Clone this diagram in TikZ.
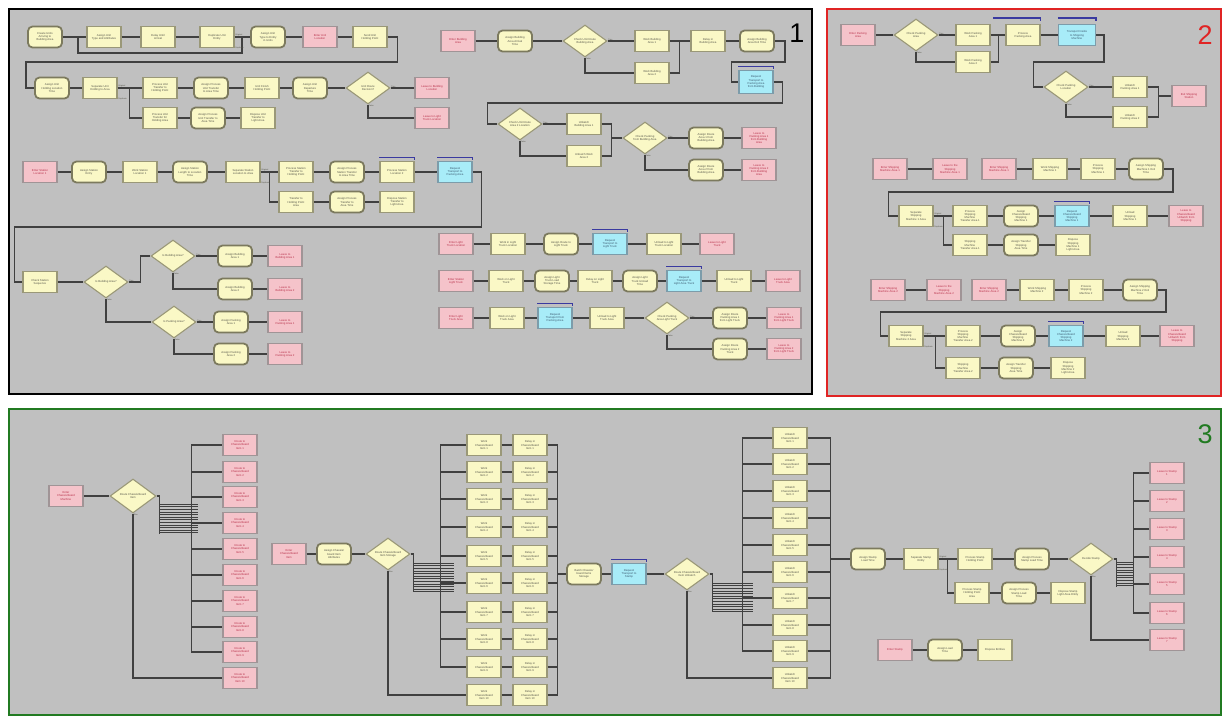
\documentclass[tikz,border=0pt]{standalone}
\usepackage{fontspec}
\setmainfont{Liberation Sans}
\usetikzlibrary{shapes.geometric}
\definecolor{bggray}{HTML}{C0C0C0}
\definecolor{yfill}{HTML}{FAF8C6}
\definecolor{ybord}{HTML}{9A9878}
\definecolor{rbord}{HTML}{7C7A5E}
\definecolor{ytext}{HTML}{55554A}
\definecolor{pfill}{HTML}{F5C3CA}
\definecolor{pbord}{HTML}{A09496}
\definecolor{ptext}{HTML}{B8304A}
\definecolor{bfill}{HTML}{A8ECF8}
\definecolor{bbord}{HTML}{7C9CAA}
\definecolor{btext}{HTML}{3C5A70}
\definecolor{lin}{HTML}{404040}
\definecolor{barc}{HTML}{3A3AA0}
\definecolor{redb}{HTML}{E02424}
\definecolor{greenb}{HTML}{217A21}
\newcommand\tbar[1]{\draw[bar] ([yshift=3.5pt]#1.north west) -- ([yshift=3.5pt]#1.north east) -- ([yshift=0.5pt]#1.north east);}
\newcommand\tflab[1]{\node[lab,anchor=south west] at (#1.east) {True}; \node[lab,anchor=north west] at (#1.south) {False};}
\newcommand\odlab[1]{\node[lab,anchor=south west] at (#1.east) {Original}; \node[lab,anchor=north west] at ([yshift=2pt]#1.south east) {Duplicate};}
\begin{document}
\begin{tikzpicture}[x=1pt,y=-1pt,
 base/.style={rectangle,minimum width=34pt,minimum height=21pt,inner sep=0.5pt,align=center,font=\fontsize{2.8}{3.2}\selectfont,line width=1.1pt},
 ybox/.style={base,fill=yfill,draw=ybord,text=ytext},
 yrnd/.style={ybox,rounded corners=4.5pt,draw=rbord,line width=1.8pt},
 pbox/.style={base,fill=pfill,draw=pbord,text=ptext},
 bbox/.style={base,fill=bfill,draw=bbord,text=btext},
 dia/.style={diamond,shape aspect=1.4,fill=yfill,draw=ybord,line width=1.1pt,minimum width=44pt,minimum height=32pt,inner sep=0pt,align=center,font=\fontsize{2.8}{3.2}\selectfont,text=ytext},
 conn/.style={draw=lin,line width=1.4pt},
 hatchline/.style={draw=lin,line width=0.6pt},
 bar/.style={draw=barc,line width=1.4pt},
 lab/.style={font=\fontsize{2}{2.4}\selectfont,text=ytext,inner sep=0.6pt},
 big/.style={font=\fontsize{27}{27}\selectfont,inner sep=0pt}]
\fill[white] (0,0) rectangle (1227,720);
\useasboundingbox (0,0) rectangle (1227,720);
\draw[fill=bggray,draw=black,line width=2.6pt] (9,9) rectangle (812,394);
\draw[fill=bggray,draw=redb,line width=2.4pt] (827,9) rectangle (1221,396);
\draw[fill=bggray,draw=greenb,line width=2.6pt] (9,409) rectangle (1221,715);
\node[big,text=black] (n1lab) at (797,33) {1};
\node[big,text=redb] (n2lab) at (1205,35) {2};
\node[big,text=greenb] (n3lab) at (1205,434) {3};

% ---------------- Panel 1 ----------------
\node[yrnd] (a1) at (45,37) {Create Units\\Arriving to\\Building Area};
\node[ybox] (a2) at (104,37) {Assign Unit\\Type and Attributes};
\node[ybox] (a3) at (158,37) {Delay Until\\Arrival};
\node[ybox] (a4) at (217,37) {Duplicate Unit\\Entity};
\node[yrnd] (a5) at (268,37) {Assign Unit\\Type to Entity\\in Units};
\node[pbox] (a6) at (320,37) {Enter Unit\\Location};
\node[ybox] (a7) at (370,37) {Send Unit\\Holding Point};

\node[yrnd] (b1) at (52,88) {Assign Unit\\Holding Location\\Time};
\node[ybox] (b2) at (100,88) {Separate Unit\\Holding to Area};
\node[ybox] (b3) at (160,88) {Process Unit\\Transfer to\\Holding Point};
\node[yrnd] (b4) at (211,88) {Assign Process\\Unit Transfer\\to Area Time};
\node[ybox] (b5) at (262,88) {Unit Finish\\Holding Point};
\node[yrnd] (b6) at (310,88) {Assign Unit\\Departure\\Time};
\node[dia] (b7) at (368,88) {Unit Route\\Decision?};
\node[pbox] (b8) at (432,88) {Leave to Building\\Location};
\node[pbox] (b9) at (432,118) {Leave to Light\\Truck Location};
\node[ybox] (b3b) at (160,118) {Process Unit\\Transfer for\\Holding Area};
\node[yrnd] (b4b) at (208,118) {Assign Process\\Unit Transfer to\\Area Time};
\node[ybox] (b5b) at (258,118) {Dispose Unit\\Transfer to\\Light Area};

\node[pbox] (c1) at (458,41) {Enter Building\\Area};
\node[yrnd] (c2) at (515,41) {Assign Building\\Area Arrival\\Time};
\node[dia] (c3) at (585,41) {Check Unit Route\\Building Area};
\node[ybox] (c4) at (652,41) {Work Building\\Area 1};
\node[ybox] (c5) at (652,73) {Work Building\\Area 2};
\node[ybox] (c6) at (708,41) {Delay in\\Building Area};
\node[yrnd] (c7) at (757,41) {Assign Building\\Area Exit Time};
\node[bbox,minimum height=23pt] (c8) at (756,82) {Request\\Transport to\\Packing Area\\from Building};
\node[dia] (c9) at (520,124) {Check Unit Route\\Area 2 Location};
\node[ybox] (c10) at (584,124) {Unbatch\\Building Area 1};
\node[ybox] (c11) at (584,156) {Unbatch Work\\Area 2};
\node[dia] (c12) at (645,138) {Check Packing\\from Building Area};
\node[yrnd] (c13) at (706,138) {Assign Route\\Area 1 from\\Building Area};
\node[pbox] (c14) at (759,138) {Leave to\\Packing Area 1\\from Building\\Area};
\node[yrnd] (c15) at (706,170) {Assign Route\\Area 2 from\\Building Area};
\node[pbox] (c16) at (759,170) {Leave to\\Packing Area 2\\from Building\\Area};

\node[pbox] (d1) at (40,172) {Enter Station\\Location 1};
\node[yrnd] (d2) at (89,172) {Assign Station\\Entry};
\node[ybox] (d3) at (140,172) {Work Station\\Location 1};
\node[yrnd] (d4) at (190,172) {Assign Station\\Length to Location\\Time};
\node[ybox] (d5) at (243,172) {Separate Station\\Location to Area};
\node[ybox] (d6) at (296,172) {Process Station\\Transfer to\\Holding Point};
\node[yrnd] (d7) at (347,172) {Assign Process\\Station Transfer\\to Area Time};
\node[ybox] (d8) at (397,172) {Process Station\\Location 2};
\node[bbox] (d9) at (455,172) {Request\\Transport to\\Packing Area};
\node[ybox] (d6b) at (296,202) {Transfer to\\Holding Point\\Area};
\node[yrnd] (d7b) at (347,202) {Assign Process\\Transfer to\\Area Time};
\node[ybox] (d8b) at (397,202) {Dispose Station\\Transfer to\\Light Area};

\node[ybox] (e1) at (40,282) {Check Station\\Sequence};
\node[dia] (e2) at (106,282) {Is Building Area?};
\node[dia] (e3) at (173,256) {Is Building Area?};
\node[yrnd] (e4) at (235,256) {Assign Building\\Area 1};
\node[pbox] (e5) at (285,256) {Leave to\\Building Area 1};
\node[yrnd] (e6) at (235,289) {Assign Building\\Area 2};
\node[pbox] (e7) at (285,289) {Leave to\\Building Area 2};
\node[dia] (e8) at (174,322) {Is Packing Area?};
\node[yrnd] (e9) at (231,322) {Assign Packing\\Area 1};
\node[pbox] (e10) at (285,322) {Leave to\\Packing Area 1};
\node[yrnd] (e11) at (231,354) {Assign Packing\\Area 2};
\node[pbox] (e12) at (285,354) {Leave to\\Packing Area 2};

\node[pbox] (f1) at (456,244) {Enter Light\\Truck Location};
\node[ybox] (f2) at (508,244) {Work in Light\\Truck Location};
\node[yrnd] (f3) at (561,244) {Assign Route to\\Light Truck};
\node[bbox] (f4) at (610,244) {Request\\Transport to\\Light Truck};
\node[ybox] (f5) at (664,244) {Unload to Light\\Truck Location};
\node[pbox] (f6) at (717,244) {Leave to Light\\Truck};

\node[pbox] (g1) at (456,281) {Enter Station\\Light Truck};
\node[ybox] (g2) at (506,281) {Work on Light\\Truck};
\node[yrnd] (g3) at (552,281) {Assign Light\\Truck Load\\Storage Time};
\node[ybox] (g4) at (595,281) {Delay on Light\\Truck};
\node[yrnd] (g5) at (640,281) {Assign Light\\Truck Unload\\Time};
\node[bbox] (g6) at (684,281) {Request\\Transport to\\Light Area Truck};
\node[ybox] (g7) at (734,281) {Unload to Light\\Truck};
\node[pbox] (g8) at (783,281) {Leave to Light\\Truck Area};

\node[pbox] (h1) at (456,318) {Enter Light\\Truck Area};
\node[ybox] (h2) at (507,318) {Work on Light\\Truck Area};
\node[bbox] (h3) at (555,318) {Request\\Transport from\\Packing Area};
\node[ybox] (h4) at (607,318) {Unload to Light\\Truck Area};
\node[dia] (h5) at (667,318) {Check Packing\\Area Light Truck};
\node[yrnd] (h6) at (730,318) {Assign Route\\Packing Area 1\\from Light Truck};
\node[pbox] (h7) at (784,318) {Leave to\\Packing Area 1\\from Light Truck};
\node[yrnd] (h8) at (730,349) {Assign Route\\Packing Area 2\\Truck};
\node[pbox] (h9) at (784,349) {Leave to\\Packing Area 2\\from Light Truck};

% connectors panel 1
\foreach \p/\q in {a1/a2,a2/a3,a3/a4,a4/a5,a5/a6,a6/a7,b1/b2,b2/b3,b3/b4,b4/b5,b5/b6,b6/b7,b7/b8,b3b/b4b,b4b/b5b,
 c1/c2,c2/c3,c3/c4,c4/c6,c6/c7,c9/c10,c12/c13,c13/c14,c15/c16,
 d1/d2,d2/d3,d3/d4,d4/d5,d5/d6,d6/d7,d7/d8,d8/d9,d6b/d7b,d7b/d8b,
 e1/e2,e3/e4,e4/e5,e6/e7,e8/e9,e9/e10,e11/e12,
 f1/f2,f2/f3,f3/f4,f4/f5,f5/f6,g1/g2,g2/g3,g3/g4,g4/g5,g5/g6,g6/g7,g7/g8,
 h1/h2,h2/h3,h3/h4,h4/h5,h5/h6,h6/h7,h8/h9}
 \draw[conn] (\p.east) -- (\q.west);
\draw[conn] (a1.east) -- ++(15,0) -- ++(0,16) -| ([xshift=-8pt]a5.west) -- (a5.west);
\draw[conn] (a7.east) -| ++(10,25) -| ([xshift=-8pt]b1.west) -- (b1.west);
\draw[conn] (b7.south) |- (b9.west);
\draw[conn] (b2.east) -- ++(12,0) |- (b3b.west);
\draw[conn] (c3.south) |- (c5.west);
\draw[conn] (c5.east) -| ([xshift=-11pt]c6.west);
\draw[conn] (c7.east) -| ++(10,21) -| ([xshift=-7pt]c8.west) -- (c8.west);
\draw[conn] (c8.east) -| ++(9,21) -| ([xshift=-10pt]c9.west) -- (c9.west);
\draw[conn] (c9.south) |- (c11.west);
\draw[conn] (c10.east) -| ([xshift=-11pt]c12.west) -- (c12.west);
\draw[conn] (c11.east) -| ([xshift=-11pt]c12.west);
\draw[conn] (c12.south) |- (c15.west);
\draw[conn] (d5.east) -- ++(9,0) |- (d6b.west);
\draw[conn] (d9.east) -| ++(9,55) -| ([xshift=-8pt]e1.west) -- (e1.west);
\draw[conn] (e2.east) -- ++(12,0) |- (e3.west);
\draw[conn] (e3.south) |- (e6.west);
\draw[conn] (e2.south) |- (e8.west);
\draw[conn] (e8.south) |- (e11.west);
\draw[conn] (h5.south) |- (h8.west);
\foreach \n in {c8,d8,d9,f4,g6,h3} {\tbar{\n}}
\foreach \n in {b7,c3,c9,c12,e2,e3,e8,h5} {\tflab{\n}}
\foreach \n in {a4,b2,d5} {\odlab{\n}}

% ---------------- Panel 2 ----------------
\node[pbox] (i1) at (858,35) {Enter Packing\\Area};
\node[dia] (i2) at (916,35) {Check Packing\\Area};
\node[ybox] (i3) at (973,35) {Work Packing\\Area 1};
\node[ybox] (i4) at (973,62) {Work Packing\\Area 2};
\node[ybox] (i5) at (1023,35) {Process\\Packing Area};
\node[bbox,minimum width=37pt] (i6) at (1077,35) {Transport Inside\\to Shipping\\Machine};
\node[dia] (i7) at (1066,87) {Check Packing\\Location};
\node[ybox] (i8) at (1130,87) {Unbatch\\Packing Area 1};
\node[ybox] (i9) at (1130,117) {Unbatch\\Packing Area 2};
\node[pbox] (i10) at (1189,96) {Exit Shipping\\Station};

\node[pbox] (j1) at (890,169) {Enter Shipping\\Machine Area 1};
\node[pbox] (j2) at (950,169) {Leave to the\\Shipping\\Machine Area 1};
\node[pbox] (j3) at (999,169) {Enter Shipping\\Machine Area 1};
\node[ybox] (j4) at (1050,169) {Work Shipping\\Machine 1};
\node[ybox] (j5) at (1098,169) {Process\\Shipping\\Machine 1};
\node[yrnd] (j6) at (1146,169) {Assign Shipping\\Machine 1 Exit\\Time};
\node[ybox] (k1) at (916,216) {Separate\\Shipping\\Machine 1 Area};
\node[ybox] (k2) at (970,216) {Process\\Shipping\\Machine\\Transfer Area 1};
\node[yrnd] (k3) at (1021,216) {Assign\\Chassis/board\\Shipping\\Machine 1};
\node[bbox] (k4) at (1072,216) {Request\\Chassis/board\\Shipping\\Machine 1};
\node[ybox] (k5) at (1130,216) {Unload\\Shipping\\Machine 1};
\node[pbox] (k6) at (1186,216) {Leave to\\Chassis/board\\Unbatch from\\Shipping};
\node[ybox] (k2b) at (970,245) {Shipping\\Machine\\Transfer Area 1};
\node[yrnd] (k3b) at (1021,245) {Assign Transfer\\Shipping\\Area Time};
\node[ybox] (k4b) at (1073,245) {Dispose\\Shipping\\Machine 1\\Light Area};

\node[pbox] (l1) at (888,290) {Enter Shipping\\Machine Area 2};
\node[pbox] (l2) at (944,290) {Leave to the\\Shipping\\Machine Area 2};
\node[pbox] (l3) at (989,290) {Enter Shipping\\Machine Area 2};
\node[ybox] (l4) at (1037,290) {Work Shipping\\Machine 2};
\node[ybox] (l5) at (1086,290) {Process\\Shipping\\Machine 2};
\node[yrnd] (l6) at (1140,290) {Assign Shipping\\Machine 2 Exit\\Time};
\node[ybox] (m1) at (906,336) {Separate\\Shipping\\Machine 2 Area};
\node[ybox] (m2) at (963,336) {Process\\Shipping\\Machine\\Transfer Area 2};
\node[yrnd] (m3) at (1018,336) {Assign\\Chassis/board\\Shipping\\Machine 2};
\node[bbox] (m4) at (1066,336) {Request\\Chassis/board\\Shipping\\Machine 2};
\node[ybox] (m5) at (1123,336) {Unload\\Shipping\\Machine 2};
\node[pbox] (m6) at (1177,336) {Leave to\\Chassis/board\\Unbatch from\\Shipping};
\node[ybox] (m2b) at (963,368) {Shipping\\Machine\\Transfer Area 2};
\node[yrnd] (m3b) at (1016,368) {Assign Transfer\\Shipping\\Area Time};
\node[ybox] (m4b) at (1068,368) {Dispose\\Shipping\\Machine 2\\Light Area};

\foreach \p/\q in {i1/i2,i2/i3,i3/i5,i5/i6,i7/i8,j1/j2,j3/j4,j4/j5,j5/j6,k1/k2,k2/k3,k3/k4,k4/k5,k5/k6,k2b/k3b,k3b/k4b,
 l1/l2,l3/l4,l4/l5,l5/l6,m1/m2,m2/m3,m3/m4,m4/m5,m5/m6,m2b/m3b,m3b/m4b}
 \draw[conn] (\p.east) -- (\q.west);
\draw[conn] (i2.south) |- (i4.west);
\draw[conn] (i4.east) -| ([xshift=-7pt]i5.west);
\draw[conn] (i6.east) -| ++(8,27) -| ([xshift=-10pt]i7.west) -- (i7.west);
\draw[conn] (i7.south) |- (i9.west);
\draw[conn] (i8.east) -| ([xshift=-13pt]i10.west) -- (i10.west);
\draw[conn] (i9.east) -| ([xshift=-13pt]i10.west);
\draw[conn] (j6.east) -| ++(9,23) -| ([xshift=-10pt]k1.west) -- (k1.west);
\draw[conn] (k1.east) -- ++(10,0) |- (k2b.west);
\draw[conn] (l6.east) -| ++(8,22) -| ([xshift=-8pt]m1.west) -- (m1.west);
\draw[conn] (m1.east) -- ++(12,0) |- (m2b.west);
\draw[bar] ([xshift=-12pt,yshift=6pt]i5.north west) -- ([yshift=6pt]i5.north east) -- ([yshift=3pt]i5.north east);
\draw[bar] ([yshift=6pt]i6.north west) -- ([yshift=6pt]i6.north east) -- ([yshift=3pt]i6.north east);
\foreach \n in {k4,m4} {\tbar{\n}}
\foreach \n in {i2,i7} {\tflab{\n}}
\foreach \n in {k1,m1} {\odlab{\n}}

% ---------------- Panel 3 ----------------
\node[pbox] (n1) at (66,496) {Enter\\Chassis/board\\Machine};
\node[dia,minimum width=46pt,minimum height=34pt] (n2) at (133,496) {Route Chassis/board\\Item};
\foreach \i/\yy in {1/445,2/472,3/497,4/523,5/549,6/575,7/601,8/627,9/652,10/678}
 \node[pbox] (r\i) at (240,\yy) {Route to\\Chassis/board\\Item \i};
\node[pbox] (n3) at (289,554) {Enter\\Chassis/board\\Item};
\node[yrnd] (n4) at (334,554) {Assign Chassis/\\board Item\\Attributes};
\node[dia] (n5) at (388,554) {Route Chassis/board\\Item Storage};
\foreach \i/\yy in {1/445,2/472,3/499,4/527,5/556,6/583,7/612,8/639,9/667,10/695}{
 \node[ybox] (s\i) at (484,\yy) {Work\\Chassis/board\\Item \i};
 \node[ybox] (t\i) at (530,\yy) {Delay in\\Chassis/board\\Item \i};}
\node[yrnd] (u1) at (584,574) {Batch Chassis/\\board Items\\Storage};
\node[bbox] (u2) at (629,574) {Request\\Transport to\\Stamp};
\node[dia] (u3) at (687,574) {Route Chassis/board\\Item Unbatch};
\foreach \i/\yy in {1/438,2/464,3/491,4/518,5/545,6/572,7/598,8/625,9/651,10/678}
 \node[ybox] (v\i) at (790,\yy) {Unbatch\\Chassis/board\\Item \i};
\node[yrnd] (w1) at (868,559) {Assign Stamp\\Load Time};
\node[ybox] (w2) at (921,559) {Separate Stamp\\Entity};
\node[ybox] (w3) at (975,559) {Process Stamp\\Holding Point};
\node[yrnd] (w4) at (1032,559) {Assign Process\\Stamp Load Time};
\node[dia] (w5) at (1091,559) {Decide Stamp};
\node[ybox] (w3b) at (972,593) {Process Stamp\\Holding Point\\Area};
\node[yrnd] (w4b) at (1019,593) {Assign Process\\Stamp Load\\Time};
\node[ybox] (w5b) at (1068,593) {Dispose Stamp\\Light Area Entity};
\foreach \i/\yy in {1/473,2/501,3/529,4/557,5/584,6/613,7/640}
 \node[pbox] (x\i) at (1167,\yy) {Leave to Stamp\\\i};
\node[pbox] (y1) at (895,650) {Enter Stamp};
\node[yrnd] (y2) at (945,650) {Assign Load\\Time};
\node[ybox] (y3) at (995,650) {Dispose Entities};

\foreach \p/\q in {n1/n2,n3/n4,n4/n5,u1/u2,u2/u3,w1/w2,w2/w3,w3/w4,w4/w5,w3b/w4b,w4b/w5b,y1/y2,y2/y3}
 \draw[conn] (\p.east) -- (\q.west);
% route bus 1
\coordinate (busR) at ([xshift=-31pt]r1.west);
\draw[conn] (busR) -- (busR |- r9.west);
\foreach \i in {1,...,9} \draw[conn] (busR |- r\i.west) -- (r\i.west);
\draw[conn] (n2.south) |- (r10.west);
\coordinate (hn2) at ([xshift=3pt]n2.east);
\draw[conn] (n2.east) -- (hn2) -- ++(0,38);
\foreach \k in {0,...,11} \draw[hatchline] (hn2) ++(0,{8+2.6*\k}) -- ++(38,0);
% work / delay
\coordinate (busS) at ([xshift=-26pt]s1.west);
\draw[conn] (busS) -- (busS |- s9.west);
\foreach \i in {1,...,9} \draw[conn] (busS |- s\i.west) -- (s\i.west);
\draw[conn] (n5.south) |- (s10.west);
\coordinate (hn5) at ([xshift=3pt]n5.east);
\draw[conn] (n5.east) -- (hn5) -- ++(0,38);
\foreach \k in {0,...,11} \draw[hatchline] (hn5) ++(0,{9+2.6*\k}) -- ++(40,0);
\foreach \i in {1,...,10} \draw[conn] (s\i.east) -- (t\i.west);
\coordinate (busT) at ([xshift=10pt]t1.east);
\draw[conn] (busT) -- (busT |- t10.east);
\foreach \i in {1,...,10} \draw[conn] (t\i.east) -- (busT |- t\i.east);
\draw[conn] (busT |- u1.west) -- (u1.west);
% unbatch
\coordinate (busV) at ([xshift=-30pt]v1.west);
\draw[conn] (busV) -- (busV |- v9.west);
\foreach \i in {1,...,9} \draw[conn] (busV |- v\i.west) -- (v\i.west);
\draw[conn] (u3.south) |- (v10.west);
\coordinate (hu3) at ([xshift=3pt]u3.east);
\draw[conn] (u3.east) -- (hu3) -- ++(0,38);
\foreach \k in {0,...,11} \draw[hatchline] (hu3) ++(0,{9+2.6*\k}) -- ++(40,0);
\coordinate (busV2) at ([xshift=23pt]v1.east);
\draw[conn] (busV2) -- (busV2 |- v10.east);
\foreach \i in {1,...,10} \draw[conn] (v\i.east) -- (busV2 |- v\i.east);
\draw[conn] (busV2 |- w1.west) -- (w1.west);
% stamp
\draw[conn] (w2.east) -- ++(9,0) |- (w3b.west);
\coordinate (busX) at ([xshift=-16pt]x1.west);
\draw[conn] (busX) -- (busX |- x6.west);
\foreach \i in {1,...,6} \draw[conn] (busX |- x\i.west) -- (x\i.west);
\draw[conn] (w5.south) |- (x7.west);
\coordinate (hw5) at ([xshift=3pt]w5.east);
\draw[conn] (w5.east) -- (hw5) -- ++(0,28);
\foreach \k in {0,...,9} \draw[hatchline] (hw5) ++(0,{3+2.6*\k}) -- ++(17,0);
\tbar{u2}
\foreach \n in {n2,n5,u3,w5} {\node[lab,anchor=north west] at (\n.south) {Else};}
\odlab{w2}
\end{tikzpicture}
\end{document}
